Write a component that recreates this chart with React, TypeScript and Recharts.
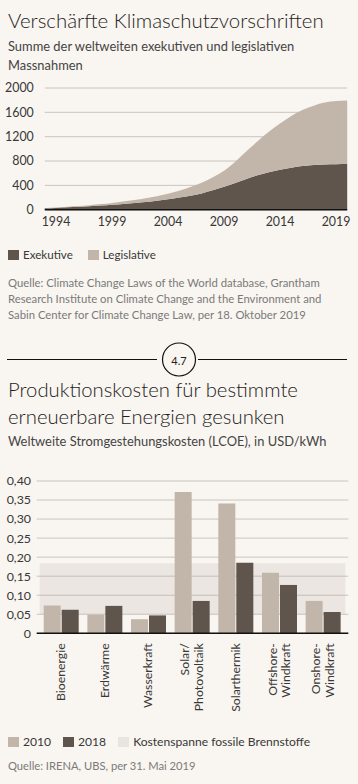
import React from 'react';
import {
  AreaChart,
  Area,
  BarChart,
  Bar,
  XAxis,
  YAxis,
  CartesianGrid,
  ReferenceArea,
} from 'recharts';

// ---- chart 1: Klimaschutzvorschriften (kumuliert)
const years = [
  1993, 1994, 1995, 1996, 1997, 1998, 1999, 2000, 2001, 2002, 2003, 2004, 2005, 2006,
  2007, 2008, 2009, 2010, 2011, 2012, 2013, 2014, 2015, 2016, 2017, 2018, 2019, 2020,
];
const exekutive = [
  22, 30, 40, 48, 57, 68, 80, 95, 110, 128, 148, 172, 200, 230,
  268, 318, 378, 440, 505, 565, 615, 655, 690, 718, 735, 744, 748, 750,
];
const legislative = [
  3, 5, 8, 12, 18, 24, 32, 40, 50, 62, 74, 90, 112, 145,
  175, 215, 262, 350, 455, 560, 665, 760, 850, 922, 975, 1016, 1037, 1045,
];
const yearTicks = [1994, 1999, 2004, 2009, 2014, 2019];
const countTicks = [0, 400, 800, 1200, 1600, 2000];

// ---- chart 2: LCOE
const energyKeys = ['bio', 'geo', 'hydro', 'pv', 'csp', 'offshore', 'onshore'];
const energyLabels = [
  ['Bioenergie'],
  ['Erdwärme'],
  ['Wasserkraft'],
  ['Solar/', 'Photovoltaik'],
  ['Solarthermik'],
  ['Offshore-', 'Windkraft'],
  ['Onshore-', 'Windkraft'],
];
const cost2010 = [0.073, 0.049, 0.037, 0.371, 0.341, 0.159, 0.085];
const cost2018 = [0.062, 0.072, 0.047, 0.085, 0.185, 0.127, 0.056];
const fossilRange = [0.05, 0.184];
const costTicks = [0, 0.05, 0.1, 0.15, 0.2, 0.25, 0.3, 0.35, 0.4];

const DARK = '#5f554c';
const LIGHT = '#c2b6aa';
const BG = '#f9f5f0';
const FONT = 'Lato, "Open Sans", sans-serif';
const FONT_LIGHT = '"Lato Light", Lato, "Open Sans", sans-serif';
const TXT = '#383838';

const areaData = years.map((y, i) => ({ year: y, exek: exekutive[i], legis: legislative[i] }));
const barData = energyKeys.map((k, i) => ({ key: k, v2010: cost2010[i], v2018: cost2018[i] }));

const fmtCost = (v: number) => (v === 0 ? '0' : v.toFixed(2).replace('.', ','));

function EnergyTick(props: any) {
  const { x, y, payload } = props;
  const idx = energyKeys.indexOf(payload.value);
  const lines = energyLabels[idx] || [];
  const lh = 13.5;
  return (
    <g transform={`translate(${x - 1},${y + 8})`}>
      {lines.map((ln, i) => (
        <text
          key={i}
          transform="rotate(-90)"
          x={0}
          y={(i - (lines.length - 1) / 2) * lh}
          textAnchor="end"
          dominantBaseline="central"
          fontSize={12.3}
          fill={TXT}
          fontFamily={FONT}
        >
          {ln}
        </text>
      ))}
    </g>
  );
}

const abs = (top: number, extra: React.CSSProperties = {}): React.CSSProperties => ({
  position: 'absolute',
  left: 8,
  top,
  margin: 0,
  whiteSpace: 'nowrap',
  ...extra,
});

const Swatch = ({ color }: { color: string }) => (
  <span
    style={{ display: 'inline-block', width: 11, height: 10, background: color, marginRight: 4 }}
  />
);

export default function App() {
  return (
    <div
      style={{
        position: 'absolute',
        left: 0,
        top: 0,
        width: 358,
        height: 784,
        background: BG,
        fontFamily: FONT,
        color: TXT,
        overflow: 'hidden',
      }}
    >
      <div
        style={abs(7, {
          fontSize: 20.4,
          fontFamily: FONT_LIGHT,
          fontWeight: 300,
          lineHeight: '26px',
          color: '#1e1e1e',
        })}
      >
        Verschärfte Klimaschutzvorschriften
      </div>
      <div style={abs(37, { fontSize: 12.9, lineHeight: '18.5px', color: '#444' })}>
        Summe der weltweiten exekutiven und legislativen
        <br />
        Massnahmen
      </div>

      <div style={{ position: 'absolute', left: 0, top: 80 }}>
        <AreaChart
          width={358}
          height={150}
          data={areaData}
          margin={{ top: 8, right: 10.8, left: 0, bottom: 0 }}
        >
          <CartesianGrid vertical={false} stroke="#cbc4bc" />
          <XAxis
            dataKey="year"
            type="number"
            domain={[1993, 2020]}
            ticks={yearTicks}
            interval={0}
            height={20.3}
            tickLine={false}
            tickSize={0}
            tickMargin={7}
            axisLine={{ stroke: '#111', strokeWidth: 1.6 }}
            tick={{ fontSize: 12.4, fill: TXT, fontFamily: FONT }}
          />
          <YAxis
            domain={[0, 2000]}
            ticks={countTicks}
            interval={0}
            width={44.8}
            axisLine={false}
            tickLine={false}
            tickSize={0}
            tickMargin={11}
            tick={{ fontSize: 12.4, fill: TXT, fontFamily: FONT }}
          />
          <Area
            type="monotone"
            dataKey="exek"
            stackId="1"
            stroke="none"
            fill={DARK}
            fillOpacity={1}
            isAnimationActive={false}
          />
          <Area
            type="monotone"
            dataKey="legis"
            stackId="1"
            stroke="none"
            fill={LIGHT}
            fillOpacity={1}
            isAnimationActive={false}
          />
        </AreaChart>
      </div>

      <div style={abs(247, { fontSize: 11.6, lineHeight: '16px', display: 'flex', alignItems: 'center' })}>
        <Swatch color={DARK} />
        <span style={{ marginRight: 15 }}>Exekutive</span>
        <Swatch color={LIGHT} />
        <span>Legislative</span>
      </div>
      <div style={abs(275, { fontSize: 11.3, lineHeight: '16px', color: '#7a7a7a' })}>
        Quelle: Climate Change Laws of the World database, Grantham
        <br />
        Research Institute on Climate Change and the Environment and
        <br />
        Sabin Center for Climate Change Law, per 18. Oktober 2019
      </div>

      <svg
        width={358}
        height={40}
        style={{ position: 'absolute', left: 0, top: 340 }}
      >
        <line x1={7} y1={19.5} x2={157} y2={19.5} stroke="#111" strokeWidth={1.2} />
        <line x1={198} y1={19.5} x2={347} y2={19.5} stroke="#111" strokeWidth={1.2} />
        <circle cx={179} cy={19.5} r={16.5} fill="none" stroke="#111" strokeWidth={1.2} />
        <text
          x={179}
          y={20}
          textAnchor="middle"
          dominantBaseline="central"
          fontSize={11}
          fontFamily={FONT}
          fill="#222"
        >
          4.7
        </text>
      </svg>

      <div
        style={abs(376, {
          fontSize: 20.3,
          fontFamily: FONT_LIGHT,
          fontWeight: 300,
          lineHeight: '27px',
          color: '#1e1e1e',
        })}
      >
        Produktionskosten für bestimmte
        <br />
        erneuerbare Energien gesunken
      </div>
      <div style={abs(432, { fontSize: 12.9, lineHeight: '18px', color: '#444' })}>
        Weltweite Stromgestehungskosten (LCOE), in USD/kWh
      </div>

      <div style={{ position: 'absolute', left: 0, top: 470 }}>
        <BarChart
          width={358}
          height={253.3}
          data={barData}
          margin={{ top: 11, right: 9.7, left: 0, bottom: 0 }}
          barSize={17}
          barGap={1}
        >
          <ReferenceArea
            y1={fossilRange[0]}
            y2={fossilRange[1]}
            fill="#a89c9c"
            fillOpacity={0.16}
            stroke="none"
          />
          <CartesianGrid vertical={false} stroke="#cbc4bc" />
          <XAxis
            dataKey="key"
            height={90}
            padding={{ left: 3, right: 3 }}
            tickLine={false}
            tickSize={0}
            axisLine={{ stroke: '#111', strokeWidth: 1.6 }}
            interval={0}
            tick={<EnergyTick />}
          />
          <YAxis
            domain={[0, 0.4]}
            ticks={costTicks}
            interval={0}
            width={36.7}
            axisLine={false}
            tickLine={false}
            tickSize={0}
            tickMargin={5.7}
            tickFormatter={fmtCost}
            tick={{ fontSize: 12.4, fill: TXT, fontFamily: FONT }}
          />
          <Bar dataKey="v2010" fill={LIGHT} isAnimationActive={false} />
          <Bar dataKey="v2018" fill={DARK} isAnimationActive={false} />
        </BarChart>
      </div>

      <div style={abs(734, { fontSize: 12.1, lineHeight: '16px', display: 'flex', alignItems: 'center' })}>
        <Swatch color={LIGHT} />
        <span style={{ marginRight: 12 }}>2010</span>
        <Swatch color={DARK} />
        <span style={{ marginRight: 12 }}>2018</span>
        <Swatch color="#e9e4df" />
        <span>Kostenspanne fossile Brennstoffe</span>
      </div>
      <div style={abs(758, { fontSize: 11.2, lineHeight: '16px', color: '#7a7a7a' })}>
        Quelle: IRENA, UBS, per 31. Mai 2019
      </div>
    </div>
  );
}
